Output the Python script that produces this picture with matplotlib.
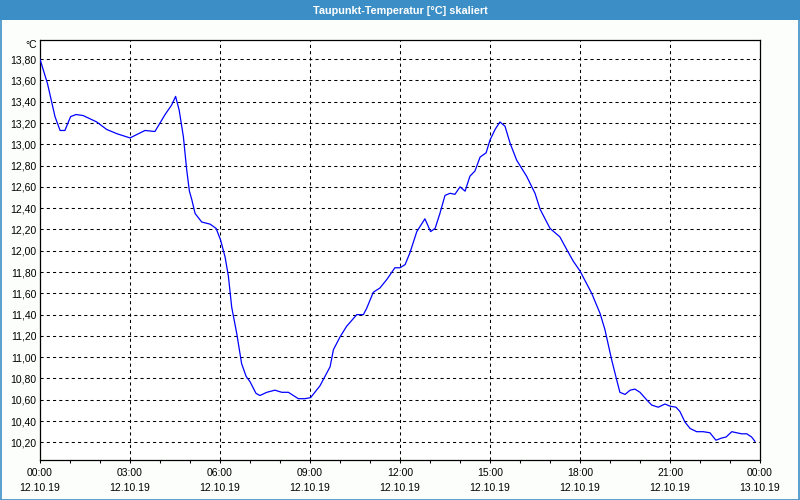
import matplotlib
matplotlib.use('Agg')
import matplotlib.pyplot as plt
from matplotlib.patches import Rectangle
from matplotlib.ticker import FixedLocator, MultipleLocator

# -- data (hours since 12.10.19 00:00, dew point in degC) --
hours = [0.0, 0.25, 0.5, 0.67, 0.83, 1.02, 1.2, 1.44, 1.89, 2.22, 2.56, 3.0,
         3.5, 3.83, 4.17, 4.39, 4.52, 4.64, 4.78, 4.89, 4.98, 5.06, 5.17, 5.39,
         5.67, 5.87, 6.02, 6.17, 6.28, 6.39, 6.56, 6.72, 6.87, 7.0, 7.2, 7.33,
         7.56, 7.83, 8.06, 8.28, 8.61, 8.83, 9.02, 9.33, 9.67, 9.78, 10.0, 10.22,
         10.56, 10.78, 10.89, 11.11, 11.33, 11.56, 11.83, 12.0, 12.17, 12.33,
         12.56, 12.83, 13.02, 13.17, 13.33, 13.5, 13.67, 13.83, 14.0, 14.17,
         14.33, 14.5, 14.67, 14.87, 15.0, 15.17, 15.33, 15.5, 15.67, 15.89,
         16.22, 16.5, 16.67, 17.0, 17.33, 17.56, 17.78, 18.0, 18.39, 18.67,
         18.83, 19.06, 19.22, 19.33, 19.5, 19.67, 19.83, 20.0, 20.22, 20.39,
         20.61, 20.83, 21.0, 21.2, 21.33, 21.5, 21.67, 21.89, 22.11, 22.33,
         22.53, 22.72, 22.87, 23.06, 23.22, 23.39, 23.56, 23.72, 23.83]
dewpoint = [13.80, 13.57, 13.26, 13.13, 13.13, 13.26, 13.28, 13.27, 13.21, 13.14,
            13.10, 13.06, 13.13, 13.12, 13.28, 13.37, 13.45, 13.32, 13.07, 12.76,
            12.56, 12.48, 12.35, 12.27, 12.25, 12.21, 12.10, 11.94, 11.76, 11.47,
            11.22, 10.94, 10.82, 10.77, 10.66, 10.64, 10.67, 10.69, 10.67, 10.67,
            10.61, 10.61, 10.62, 10.73, 10.91, 11.07, 11.19, 11.29, 11.40, 11.40,
            11.46, 11.61, 11.65, 11.73, 11.84, 11.84, 11.87, 11.98, 12.18, 12.30,
            12.18, 12.21, 12.35, 12.52, 12.54, 12.53, 12.60, 12.56, 12.70, 12.75,
            12.88, 12.92, 13.04, 13.14, 13.21, 13.17, 13.01, 12.85, 12.70, 12.54,
            12.39, 12.21, 12.13, 12.01, 11.90, 11.81, 11.60, 11.41, 11.26, 10.97,
            10.79, 10.67, 10.65, 10.69, 10.70, 10.67, 10.60, 10.55, 10.53, 10.56,
            10.54, 10.53, 10.49, 10.39, 10.33, 10.30, 10.30, 10.29, 10.22, 10.24,
            10.25, 10.30, 10.29, 10.28, 10.28, 10.25, 10.21]

xticks = [0, 3, 6, 9, 12, 15, 18, 21, 24]
xlabels = ['00:00\n12.10.19', '03:00\n12.10.19', '06:00\n12.10.19',
           '09:00\n12.10.19', '12:00\n12.10.19', '15:00\n12.10.19',
           '18:00\n12.10.19', '21:00\n12.10.19', '00:00\n13.10.19']
yticks = [10.2, 10.4, 10.6, 10.8, 11.0, 11.2, 11.4, 11.6, 11.8, 12.0, 12.2,
          12.4, 12.6, 12.8, 13.0, 13.2, 13.4, 13.6, 13.8]
title = 'Taupunkt-Temperatur [°C] skaliert'

FONT = 'Liberation Sans'
BAR = '#3c8fc6'
plt.rcParams['font.family'] = FONT

fig = plt.figure(figsize=(8, 5), dpi=100, facecolor='#fcfefc')

# -- window frame + title bar --
fig.patches.append(Rectangle((0, 0.96), 1, 0.04, transform=fig.transFigure,
                             facecolor=BAR, edgecolor='none', zorder=0))
fig.patches.append(Rectangle((0.001, 0.001), 0.998, 0.998, transform=fig.transFigure,
                             facecolor='none', edgecolor=BAR, lw=1.2, zorder=1))
fig.text(0.5, 0.979, title, color='white', fontsize=7.8, fontweight='bold',
         ha='center', va='center')

ax = fig.add_axes([0.05, 0.08, 0.9, 0.84])
ax.set_facecolor('white')
ax.plot(hours, dewpoint, color='#0000ff', lw=0.9, zorder=3)

ax.set_xlim(0, 24)
ax.set_ylim(10.034, 13.98)

ax.xaxis.set_major_locator(FixedLocator(xticks))
ax.set_xticklabels(xlabels, fontsize=7.5, linespacing=1.6)
ax.xaxis.set_minor_locator(MultipleLocator(1))
ax.tick_params(axis='x', which='both', direction='out', length=2, width=0.75,
               pad=4, color='black')

ax.set_yticks(yticks)
ax.set_yticklabels([f'{v:.2f}'.replace('.', ',') for v in yticks], fontsize=7.5)
ax.tick_params(axis='y', length=0, pad=2.5)

for v in yticks:
    ax.axhline(v, color='black', lw=0.75, ls=(0, (3, 3)), zorder=1)
for h in xticks[1:-1]:
    ax.axvline(h, color='black', lw=0.75, ls=(0, (3, 3)), zorder=1)

for s in ax.spines.values():
    s.set_color('black')
    s.set_linewidth(0.9)

fig.text(37 / 800, 1 - 45 / 500, '°C', fontsize=7.5, ha='right', va='center')

fig.savefig('out.png', dpi=100, facecolor=fig.get_facecolor())
